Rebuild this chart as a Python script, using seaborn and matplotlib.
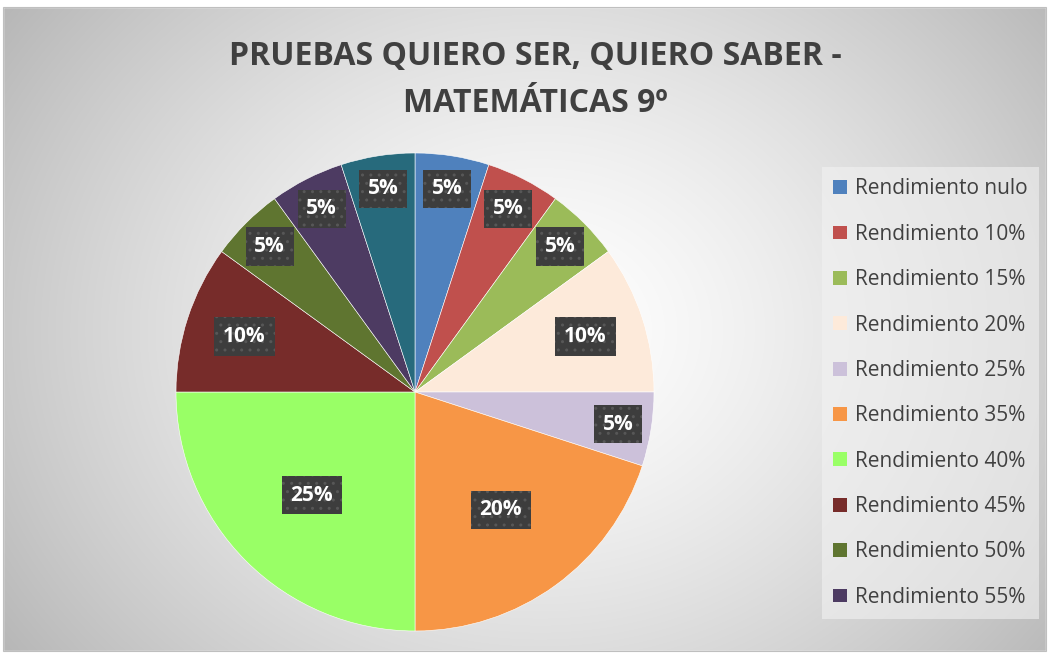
import numpy as np
import matplotlib
matplotlib.use("Agg")
import matplotlib.pyplot as plt
import seaborn as sns
from matplotlib.patches import Rectangle

categories = ["Rendimiento nulo", "Rendimiento 10%", "Rendimiento 15%", "Rendimiento 20%",
              "Rendimiento 25%", "Rendimiento 35%", "Rendimiento 40%", "Rendimiento 45%",
              "Rendimiento 50%", "Rendimiento 55%", "Rendimiento 60%"]
shares = [5, 5, 5, 10, 5, 20, 25, 10, 5, 5, 5]
colors = ["#4F81BD", "#C0504D", "#9BBB59", "#FDEADA", "#CCC1DA", "#F79646",
          "#99FF66", "#772C2A", "#5F7530", "#4D3B62", "#276A7C"]
title = "PRUEBAS QUIERO SER, QUIERO SABER -\nMATEMÁTICAS 9º"

sns.set_style("white")
plt.rcParams["font.family"] = ["Open Sans", "DejaVu Sans"]
plt.rcParams["hatch.linewidth"] = 1.0

W, H = 1049, 655
fig = plt.figure(figsize=(W / 100, H / 100), dpi=100)

# radial gradient background
bg = fig.add_axes([0, 0, 1, 1], zorder=-2)
yy, xx = np.mgrid[0:H, 0:W]
d = np.sqrt(((xx - 540) / 620.0) ** 2 + ((yy - 330) / 520.0) ** 2)
shade = np.clip(1.0 - 0.26 * d ** 1.4, 0, 1)
img = np.dstack([shade, shade, shade])
bg.imshow(img, extent=[0, W, H, 0], aspect="auto")
bg.add_patch(Rectangle((0, 0), W, 7, color="white"))
bg.add_patch(Rectangle((0, 0), 3, H, color="white"))
bg.add_patch(Rectangle((1046, 0), 3, H, color="white"))
bg.add_patch(Rectangle((0, 651), W, 4, color="white"))
bg.add_patch(Rectangle((3, 7), 1043, 644, fill=False, edgecolor="#bfbfbf", lw=0.8))
bg.set_xlim(0, W)
bg.set_ylim(H, 0)
bg.axis("off")

fig.text(535 / W, 1 - 80 / H, title, ha="center", va="center", fontsize=23,
         fontweight="bold", color="#404040", linespacing=1.6)

cx, cy, r = 415, 392, 239
ax = fig.add_axes([(cx - r) / W, (H - cy - r) / H, 2 * r / W, 2 * r / H])
wedges, _ = ax.pie(shares, colors=colors, startangle=90, counterclock=False,
                   wedgeprops=dict(edgecolor="white", linewidth=0.4))
ax.set_xlim(-1, 1)
ax.set_ylim(-1, 1)
ax.set_aspect("equal")
ax.axis("off")

total = sum(shares)
cum = 0
for v in shares:
    mid = 90 - 360 * (cum + v / 2) / total
    cum += v
    frac = 0.86 if v <= 5 else (0.75 if v <= 10 else 0.61)
    x = frac * np.cos(np.radians(mid))
    y = frac * np.sin(np.radians(mid))
    ax.text(x, y, f"{v}%", ha="center", va="center", color="white", fontsize=15,
            fontweight="bold",
            bbox=dict(boxstyle="square,pad=0.42", facecolor="#3d3d3d",
                      edgecolor="#575757", hatch="..", linewidth=0))

handles = wedges[:10]
leg = fig.legend(handles, categories[:10], loc="upper left",
                 bbox_to_anchor=(822 / W, 1 - 167 / H), borderaxespad=0,
                 frameon=True, fontsize=15,
                 handlelength=0.65, handleheight=0.65, handletextpad=0.4,
                 labelspacing=1.17, borderpad=0.55, fancybox=False)
leg.get_frame().set_facecolor("#f2f2f2")
leg.get_frame().set_alpha(0.6)
leg.get_frame().set_edgecolor("none")
for t in leg.get_texts():
    t.set_color("#404040")
for h in leg.legend_handles:
    h.set_edgecolor("none")

fig.savefig("out.png", dpi=100)
